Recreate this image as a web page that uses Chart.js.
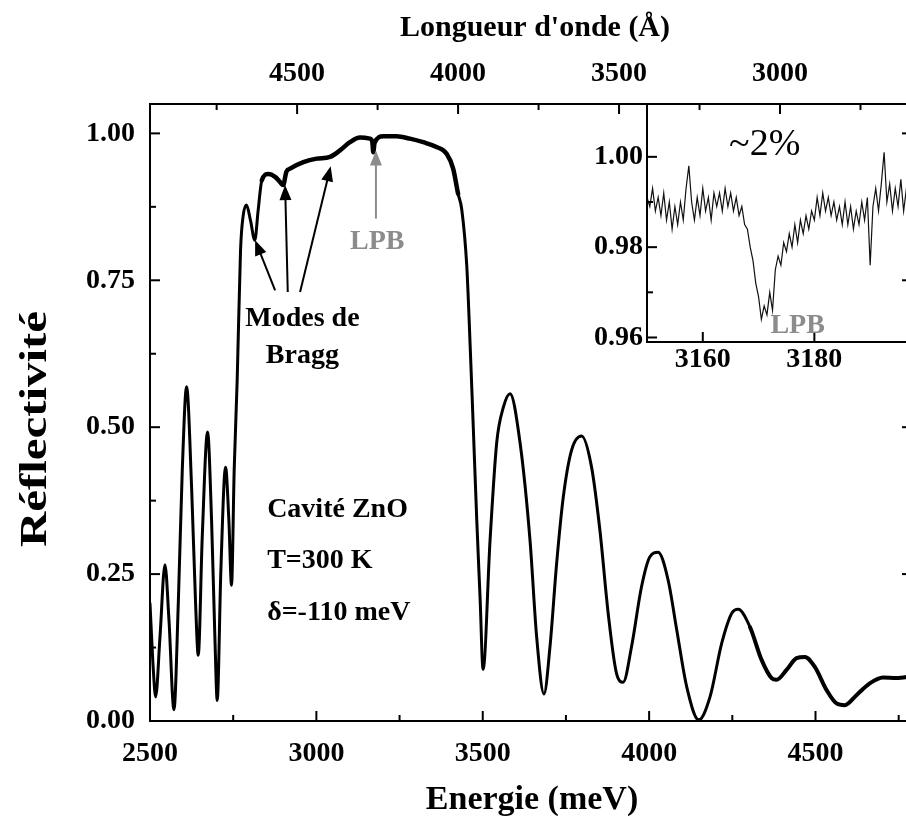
<!DOCTYPE html>
<html><head><meta charset="utf-8">
<script src="https://cdn.jsdelivr.net/npm/chart.js@4.4.1/dist/chart.umd.min.js"></script>
<style>
html,body{margin:0;padding:0;background:#fff;overflow:hidden;width:906px;height:821px}
#wrap{position:relative;width:912px;height:821px}
#main{position:absolute;left:0;top:0}
#inset{position:absolute;left:580px;top:90px}
</style></head><body>
<div id="wrap">
<canvas id="main" width="912" height="821"></canvas>
<canvas id="inset" width="332" height="290"></canvas>
</div>
<script>
// ---------- main spectrum ----------
const energyMeV = [2500,2510,2517,2530,2545,2557,2572,2585,2597,2610,2625,2637,2645,2657,2673,2685,2695,2702,2713,2727,2737,2745,2753,2762,2772,2780,2790,2802,2815,2825,2836,2856,2876,2891,2900,2910,2921,2961,3001,3041,3071,3101,3131,3161,3168,3171,3175,3201,3241,3281,3321,3361,3392,3411,3426,3437,3452,3462,3471,3482,3492,3501,3522,3542,3562,3582,3612,3642,3662,3684,3702,3722,3742,3767,3797,3827,3852,3877,3902,3922,3947,3977,4002,4027,4057,4083,4113,4149,4183,4218,4248,4268,4303,4338,4368,4383,4413,4443,4468,4498,4533,4563,4588,4623,4663,4703,4743,4790];
const reflectivity = [0.20,0.087,0.041,0.143,0.266,0.172,0.019,0.200,0.427,0.569,0.398,0.200,0.112,0.313,0.492,0.342,0.143,0.035,0.257,0.432,0.342,0.231,0.427,0.58,0.80,0.86,0.878,0.852,0.818,0.869,0.920,0.931,0.926,0.917,0.912,0.935,0.940,0.951,0.957,0.960,0.971,0.985,0.993,0.991,0.986,0.968,0.984,0.995,0.995,0.991,0.985,0.977,0.965,0.940,0.897,0.870,0.774,0.641,0.508,0.342,0.209,0.088,0.308,0.474,0.534,0.557,0.474,0.308,0.143,0.046,0.126,0.268,0.381,0.461,0.485,0.432,0.325,0.183,0.081,0.066,0.126,0.228,0.279,0.287,0.240,0.155,0.058,0.002,0.041,0.132,0.183,0.190,0.160,0.104,0.073,0.070,0.087,0.107,0.109,0.092,0.053,0.030,0.027,0.044,0.064,0.074,0.073,0.076];

// ---------- inset (zoom on the LPB dip) ----------
const insetEnergy = [3150.0,3150.5,3151.0,3151.5,3152.0,3152.5,3153.0,3153.5,3154.0,3154.5,3155.0,3155.5,3156.0,3156.5,3157.0,3157.5,3158.0,3158.5,3159.0,3159.5,3160.0,3160.5,3161.0,3161.5,3162.0,3162.5,3163.0,3163.5,3164.0,3164.5,3165.0,3165.5,3166.0,3166.5,3167.0,3167.5,3168.0,3168.5,3169.0,3169.5,3170.0,3170.5,3171.0,3171.5,3172.0,3172.5,3173.0,3173.5,3174.0,3174.5,3175.0,3175.5,3176.0,3176.5,3177.0,3177.5,3178.0,3178.5,3179.0,3179.5,3180.0,3180.5,3181.0,3181.5,3182.0,3182.5,3183.0,3183.5,3184.0,3184.5,3185.0,3185.5,3186.0,3186.5,3187.0,3187.5,3188.0,3188.5,3189.0,3189.5,3190.0,3190.5,3191.0,3191.5,3192.0,3192.5,3193.0,3193.5,3194.0,3194.5,3195.0,3195.5,3196.0,3196.5,3197.0,3197.5];
const insetRefl = [0.991,0.989,0.993,0.988,0.991,0.987,0.992,0.986,0.990,0.984,0.989,0.985,0.990,0.986,0.993,0.998,0.990,0.986,0.991,0.987,0.993,0.988,0.991,0.986,0.992,0.989,0.992,0.988,0.993,0.989,0.992,0.988,0.991,0.987,0.989,0.985,0.984,0.980,0.977,0.972,0.969,0.964,0.967,0.965,0.970,0.966,0.975,0.978,0.976,0.981,0.979,0.983,0.980,0.985,0.981,0.986,0.983,0.987,0.984,0.988,0.986,0.991,0.987,0.992,0.988,0.991,0.987,0.990,0.986,0.989,0.985,0.990,0.985,0.989,0.984,0.988,0.985,0.990,0.986,0.991,0.976,0.989,0.993,0.988,0.994,1.001,0.990,0.994,0.988,0.993,0.989,0.995,0.988,0.993,0.990,0.992];

// ---------- tick labels (major) and minor tick positions ----------
const energyTickLabels = [2500,3000,3500,4000,4500];
const energyMinorTicks = [2750,3250,3750,4250,4750];
const lambdaTickLabels = [4500,4000,3500,3000];
const lambdaMinorTicks = [4750,4250,3750,3250,2750];
const reflTickLabels = [0.00,0.25,0.50,0.75,1.00];
const reflMinorTicks = [0.125,0.375,0.625,0.875];
const insetEnergyTickLabels = [3160,3180];
const insetReflTickLabels = [0.96,0.98,1.00];
const insetReflMinorTicks = [0.97,0.99];

// axis ranges
const E_MIN = 2500, E_MAX = 4790;
const LAMBDA_AT_LEFT = 4957, LAMBDA_AT_RIGHT = 2590;
const INSET_E_MIN = 3150, INSET_E_MAX = 3197.5;
const INSET_R_MIN = 0.959, INSET_R_MAX = 1.0117;

const FONT = 'Liberation Serif';
const GREY = '#8c8c8c';
const has = (arr, v) => arr.some(a => Math.abs(a - v) < 1e-6);
const setTicks = (majors, minors) => function (s) {
  s.ticks = majors.concat(minors).sort((a, b) => a - b).map(v => ({ value: v }));
};
const noPad = s => { s.paddingLeft = 0; s.paddingRight = 0; s.paddingTop = 0; s.paddingBottom = 0; };

// thicker trace where the measured spectrum is noisy
const segWidth = c => {
  const e = c.p0.parsed.x;
  if (e >= 2830 && e < 3415) return 4.5;
  if (e >= 4280) return 4;
  return 3;
};

function drawArrow(ctx, x1, y1, x2, y2, color) {
  const ang = Math.atan2(y2 - y1, x2 - x1);
  const hl = 15, hw = 6;
  ctx.strokeStyle = color; ctx.fillStyle = color; ctx.lineWidth = 2;
  ctx.beginPath(); ctx.moveTo(x1, y1);
  ctx.lineTo(x2 - Math.cos(ang) * hl * 0.8, y2 - Math.sin(ang) * hl * 0.8); ctx.stroke();
  ctx.beginPath(); ctx.moveTo(x2, y2);
  ctx.lineTo(x2 - Math.cos(ang) * hl + Math.sin(ang) * hw, y2 - Math.sin(ang) * hl - Math.cos(ang) * hw);
  ctx.lineTo(x2 - Math.cos(ang) * hl - Math.sin(ang) * hw, y2 - Math.sin(ang) * hl + Math.cos(ang) * hw);
  ctx.closePath(); ctx.fill();
}

function frameAndTicks(chart, sides) {
  const ctx = chart.ctx, a = chart.chartArea;
  ctx.save();
  ctx.strokeStyle = '#000'; ctx.lineWidth = 2;
  ctx.strokeRect(a.left, a.top, a.right - a.left, a.bottom - a.top);
  const seg = (x1, y1, x2, y2) => { ctx.beginPath(); ctx.moveTo(x1, y1); ctx.lineTo(x2, y2); ctx.stroke(); };
  sides.forEach(([id, side]) => {
    const s = chart.scales[id];
    s.ticks.forEach(t => {
      const L = t.label !== '' ? 10 : 6;
      const p = s.getPixelForValue(t.value);
      if (side === 'bottom') seg(p, a.bottom, p, a.bottom - L);
      if (side === 'top') seg(p, a.top, p, a.top + L);
      if (side === 'left') seg(a.left, p, a.left + L, p);
      if (side === 'right') seg(a.right, p, a.right - L, p);
    });
  });
  ctx.restore();
}

const mainPlugin = {
  id: 'mainDecor',
  afterDraw(chart) {
    frameAndTicks(chart, [['x', 'bottom'], ['x2', 'top'], ['y', 'left'], ['y', 'right']]);
    const ctx = chart.ctx, sx = chart.scales.x, sy = chart.scales.y;
    const X = v => sx.getPixelForValue(v), Y = v => sy.getPixelForValue(v);
    ctx.save();
    // axis titles
    ctx.fillStyle = '#000'; ctx.textAlign = 'center'; ctx.textBaseline = 'middle';
    ctx.font = 'bold 30px ' + FONT;
    ctx.fillText("Longueur d'onde (Å)", 535, 28);
    ctx.font = 'bold 34px ' + FONT;
    ctx.fillText('Energie (meV)', 532, 800);
    ctx.save();
    ctx.font = 'bold 38px ' + FONT;
    const w = ctx.measureText('Réflectivité').width;
    ctx.translate(36, 429); ctx.rotate(-Math.PI / 2); ctx.scale(236 / w, 1);
    ctx.fillText('Réflectivité', 0, 0); ctx.restore();
    // sample info
    ctx.font = 'bold 28px ' + FONT; ctx.textAlign = 'left';
    [['Cavité ZnO', 0.359], ['T=300 K', 0.272], ['δ=-110 meV', 0.185]].forEach(([t, r]) => ctx.fillText(t, X(2852), Y(r)));
    // Bragg modes
    ctx.textAlign = 'center';
    ctx.font = 'bold 28px ' + FONT;
    ctx.fillText('Modes de', X(2958), Y(0.684));
    ctx.fillText('Bragg', X(2958), Y(0.622));
    [[2876, 0.733, 2816, 0.818], [2914, 0.730, 2906, 0.912], [2951, 0.730, 3043, 0.944]].forEach(([e1, r1, e2, r2]) =>
      drawArrow(ctx, X(e1), Y(r1), X(e2), Y(r2), '#000'));
    // LPB
    drawArrow(ctx, X(3179), Y(0.855), X(3179), Y(0.971), GREY);
    ctx.fillStyle = GREY;
    ctx.fillText('LPB', X(3183), Y(0.816));
    ctx.restore();
  }
};

const tickFont = { family: FONT, weight: 'bold', size: 28 };

new Chart(document.getElementById('main'), {
  type: 'line',
  data: { datasets: [{ data: energyMeV.map((e, i) => ({ x: e, y: reflectivity[i] })), borderColor: '#000', borderWidth: 3,
    segment: { borderWidth: segWidth }, borderJoinStyle: 'round', borderCapStyle: 'round',
    pointRadius: 0, cubicInterpolationMode: 'monotone', fill: false, xAxisID: 'x', yAxisID: 'y' }] },
  options: {
    responsive: false, animation: false, devicePixelRatio: 1,
    layout: { padding: 0 },
    plugins: { legend: { display: false }, tooltip: { enabled: false } },
    scales: {
      x: { type: 'linear', position: 'bottom', min: E_MIN, max: E_MAX,
        grid: { display: false, drawTicks: false }, border: { display: false },
        afterBuildTicks: setTicks(energyTickLabels, energyMinorTicks),
        ticks: { autoSkip: false, maxRotation: 0, padding: 16, font: tickFont, color: '#000',
          callback: v => has(energyTickLabels, v) ? String(v) : '' },
        afterFit(s) { s.height = 100; noPad(s); } },
      x2: { type: 'linear', position: 'top', display: true, reverse: true, min: LAMBDA_AT_RIGHT, max: LAMBDA_AT_LEFT,
        grid: { display: false, drawTicks: false }, border: { display: false },
        afterBuildTicks: setTicks(lambdaTickLabels, lambdaMinorTicks),
        ticks: { autoSkip: false, maxRotation: 0, padding: 13, font: tickFont, color: '#000',
          callback: v => has(lambdaTickLabels, v) ? String(v) : '' },
        afterFit(s) { s.height = 104; noPad(s); } },
      y: { type: 'linear', position: 'left', min: 0, max: 1.05,
        grid: { display: false, drawTicks: false }, border: { display: false },
        afterBuildTicks: setTicks(reflTickLabels, reflMinorTicks),
        ticks: { autoSkip: false, padding: 15, font: tickFont, color: '#000',
          callback: v => has(reflTickLabels, v) ? v.toFixed(2) : '' },
        afterFit(s) { s.width = 150; noPad(s); } }
    }
  },
  plugins: [mainPlugin]
});

const insetPlugin = {
  id: 'insetDecor',
  afterDraw(chart) {
    frameAndTicks(chart, [['x', 'bottom'], ['y', 'left']]);
    const ctx = chart.ctx, sx = chart.scales.x, sy = chart.scales.y;
    ctx.save();
    ctx.textAlign = 'center'; ctx.textBaseline = 'middle';
    ctx.fillStyle = '#000'; ctx.font = '38px ' + FONT;
    ctx.fillText('~2%', sx.getPixelForValue(3171.1), sy.getPixelForValue(1.0027));
    ctx.fillStyle = GREY; ctx.font = 'bold 28px ' + FONT;
    ctx.fillText('LPB', sx.getPixelForValue(3177), sy.getPixelForValue(0.9626));
    ctx.restore();
  }
};

new Chart(document.getElementById('inset'), {
  type: 'line',
  data: { datasets: [{ data: insetEnergy.map((e, i) => ({ x: e, y: insetRefl[i] })), borderColor: '#111', borderWidth: 1.2, pointRadius: 0, tension: 0, fill: false }] },
  options: {
    responsive: false, animation: false, devicePixelRatio: 1,
    layout: { padding: { top: 14, left: 0, right: 0, bottom: 0 } },
    plugins: { legend: { display: false }, tooltip: { enabled: false } },
    scales: {
      x: { type: 'linear', min: INSET_E_MIN, max: INSET_E_MAX,
        grid: { display: false, drawTicks: false }, border: { display: false },
        afterBuildTicks: setTicks(insetEnergyTickLabels, []),
        ticks: { autoSkip: false, maxRotation: 0, padding: 1, font: tickFont, color: '#000',
          callback: v => has(insetEnergyTickLabels, v) ? String(v) : '' },
        afterFit(s) { s.height = 38; noPad(s); } },
      y: { type: 'linear', min: INSET_R_MIN, max: INSET_R_MAX,
        grid: { display: false, drawTicks: false }, border: { display: false },
        afterBuildTicks: setTicks(insetReflTickLabels, insetReflMinorTicks),
        ticks: { autoSkip: false, padding: 4, font: tickFont, color: '#000',
          callback: v => has(insetReflTickLabels, v) ? v.toFixed(2) : '' },
        afterFit(s) { s.width = 67; noPad(s); } }
    }
  },
  plugins: [insetPlugin]
});
</script>
</body></html>
